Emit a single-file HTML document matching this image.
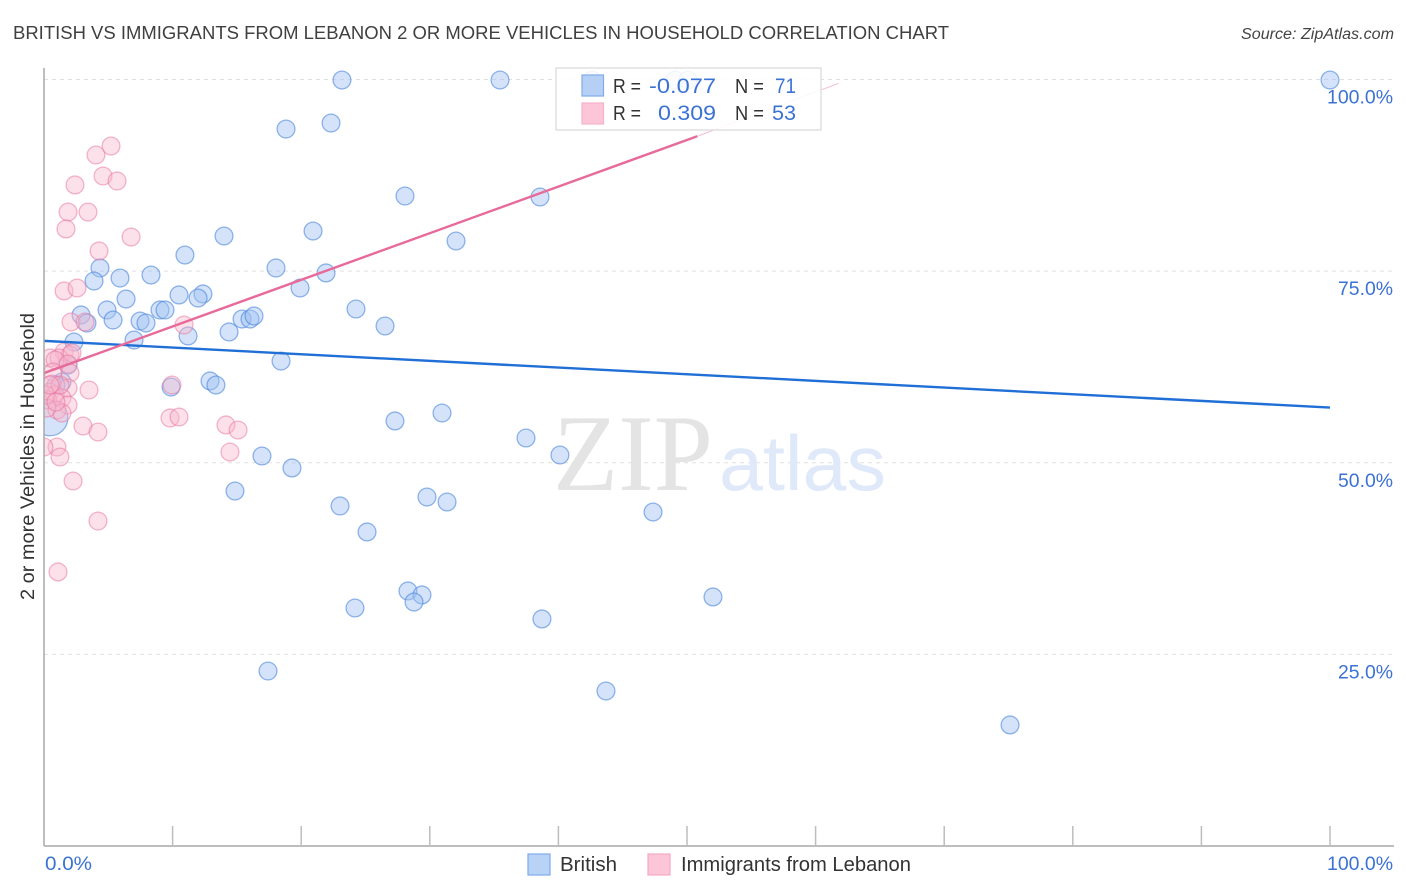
<!DOCTYPE html>
<html lang="en">
<head>
<meta charset="utf-8">
<title>British vs Immigrants from Lebanon correlation chart</title>
<style>
html,body{margin:0;padding:0;background:#fff;width:1406px;height:892px;overflow:hidden}
svg{display:block;font-family:"Liberation Sans",sans-serif}
</style>
</head>
<body>
<svg id="chart" width="1406" height="892" viewBox="0 0 1406 892" xmlns="http://www.w3.org/2000/svg">
  <defs>
    <clipPath id="plot-clip"><rect x="44" y="60" width="1350" height="786"/></clipPath>
  </defs>
  <text x="13" y="39" font-size="18.5" fill="#404040" textLength="936" lengthAdjust="spacingAndGlyphs">BRITISH VS IMMIGRANTS FROM LEBANON 2 OR MORE VEHICLES IN HOUSEHOLD CORRELATION CHART</text>
  <text x="1394" y="39" font-size="15.5" font-style="italic" fill="#444" text-anchor="end" textLength="153" lengthAdjust="spacingAndGlyphs">Source: ZipAtlas.com</text>

  <g id="grid"></g>
  <text x="553" y="490" font-family="'Liberation Serif',serif" font-size="109" fill="#e4e4e4" textLength="160" lengthAdjust="spacingAndGlyphs">ZIP</text>
  <text x="719" y="490" font-size="78" fill="#dfe9f9" textLength="167" lengthAdjust="spacingAndGlyphs">atlas</text>

  <g id="points-british" clip-path="url(#plot-clip)"></g>
  <g id="points-lebanon" clip-path="url(#plot-clip)"></g>
  <g id="trends" clip-path="url(#plot-clip)"></g>

  <g id="axes"></g>

  <text transform="translate(34,600) rotate(-90)" font-size="19" fill="#333" textLength="287" lengthAdjust="spacingAndGlyphs">2 or more Vehicles in Household</text>

  <g>
    <rect x="556" y="68" width="265" height="62" fill="#fff" fill-opacity="0.88" stroke="#dcdcdc" stroke-width="1.3"/>
    <rect x="582" y="75" width="21.5" height="21" fill="#a9c8f3" fill-opacity="0.85" stroke="#7fabe8" stroke-width="1.2"/>
    <rect x="582" y="103" width="21.5" height="21" fill="#fdc5d8" stroke="#f6b3ca" stroke-width="1.2"/>
    <text x="613" y="93" font-size="20.5" fill="#333" textLength="28" lengthAdjust="spacingAndGlyphs">R =</text>
    <text x="649" y="93" font-size="21.5" fill="#3b72d4" textLength="67" lengthAdjust="spacingAndGlyphs">-0.077</text>
    <text x="735" y="93" font-size="20.5" fill="#333" textLength="29" lengthAdjust="spacingAndGlyphs">N =</text>
    <text x="775" y="93" font-size="21.5" fill="#3b72d4" textLength="21" lengthAdjust="spacingAndGlyphs">71</text>
    <text x="613" y="120" font-size="20.5" fill="#333" textLength="28" lengthAdjust="spacingAndGlyphs">R =</text>
    <text x="658" y="120" font-size="21.5" fill="#3b72d4" textLength="58" lengthAdjust="spacingAndGlyphs">0.309</text>
    <text x="735" y="120" font-size="20.5" fill="#333" textLength="29" lengthAdjust="spacingAndGlyphs">N =</text>
    <text x="772" y="120" font-size="21.5" fill="#3b72d4" textLength="24" lengthAdjust="spacingAndGlyphs">53</text>
  </g>

  <g>
    <rect x="528" y="854" width="22" height="21" fill="#b9d3f6" stroke="#7fabe8" stroke-width="1.2"/>
    <text x="560" y="871" font-size="20" fill="#333" textLength="57" lengthAdjust="spacingAndGlyphs">British</text>
    <rect x="648" y="854" width="22" height="21" fill="#fdc5d8" stroke="#f6a9c4" stroke-width="1.2"/>
    <text x="681" y="871" font-size="20" fill="#333" textLength="230" lengthAdjust="spacingAndGlyphs">Immigrants from Lebanon</text>
  </g>
</svg>

<script>
// Chart data (values in percent)
const britishX = [23.17,35.46,42.61,49.07,50.08,100,18.82,22.32,28.07,38.57,20.92,14.00,32.04,10.96,4.35,18.04,5.91,3.89,8.32,21.93,19.91,6.38,10.50,12.36,11.98,9.02,9.41,4.90,2.88,5.37,7.47,7.93,3.34,15.40,16.02,16.33,14.39,24.26,26.52,7.00,2.33,11.20,18.43,1.87,12.91,13.37,9.88,1.40,0.93,0.47,27.29,30.95,37.48,40.12,16.95,19.28,14.85,29.78,31.34,23.02,25.12,47.36,28.30,29.39,28.77,24.18,52.02,38.72,17.42,43.70,75.12];
const britishY = [99.93,99.93,99.93,99.93,99.93,99.93,93.54,94.32,84.80,84.67,80.23,79.58,78.93,77.10,75.41,75.41,74.10,73.71,74.49,74.76,72.80,71.36,71.89,72.02,71.49,69.93,69.93,69.93,69.28,68.62,68.49,68.23,68.23,68.75,68.75,69.15,67.06,70.06,67.84,66.01,65.75,66.54,63.27,62.75,60.67,60.14,59.88,60.53,60.14,55.84,55.45,56.49,53.23,51.01,50.88,49.32,46.31,45.53,44.88,44.36,40.97,43.57,33.27,32.75,31.83,31.05,32.49,29.62,22.83,20.22,15.79];
const lebanonX = [5.21,4.04,4.59,5.68,2.41,1.87,3.42,1.71,6.77,4.28,1.56,2.57,2.10,3.19,10.89,1.56,2.02,0.47,1.17,0.86,2.18,1.87,2.02,0.70,3.50,9.95,1.87,0.62,0.47,0.86,0.31,1.40,1.87,1.01,1.40,9.80,10.50,3.03,4.20,14.15,15.09,1.01,14.46,1.24,0,2.26,4.20,1.09,1.24,0.23,0.16,0.93,0.47];
const lebanonY = [91.32,90.15,87.41,86.76,86.24,82.71,82.71,80.50,79.45,77.63,72.41,72.80,68.36,68.36,67.97,64.45,64.06,63.67,63.67,63.40,64.32,62.88,61.71,61.84,59.49,60.14,59.75,60.27,59.23,58.84,58.19,58.45,57.53,56.88,56.49,55.84,55.97,54.79,54.01,54.93,54.27,52.05,51.40,50.75,52.05,47.62,42.40,35.75,60.14,57.14,58.84,57.92,60.14];
// Bubble weight: 1 = ordinary point; a heavier point draws larger
const britishWeights = {49:2};
// Trend line end points [x%, y%]
const britishTrendX = [0,100];
const britishTrendY = [65.9,57.2];
const lebanonTrendX = [0,50.8];
const lebanonTrendY = [61.7,92.6];
const lebanonTrendFadedX = [50.8,61.8];
const lebanonTrendFadedY = [92.6,99.5];
// Axis ticks
const xTickValues = [0,10,20,30,40,50,60,70,80,90,100];
const yTickValues = [100,75,50,25];
const yTickLabels = ['100.0%','75.0%','50.0%','25.0%'];
const xTickLabels = ['0.0%','100.0%'];

const NS = 'http://www.w3.org/2000/svg';
const sx = v => 44 + v * 12.86;
const sy = v => 846 - v * 7.665;

function mk(parent, tag, attrs) {
  const el = document.createElementNS(NS, tag);
  for (const k in attrs) el.setAttribute(k, attrs[k]);
  parent.appendChild(el);
  return el;
}

// Gridlines and y tick labels
const gridG = document.getElementById('grid');
const axesG = document.getElementById('axes');
yTickValues.forEach((v, i) => {
  const gl = mk(gridG, 'line', {x1: 44, x2: 1394, y1: sy(v), y2: sy(v), stroke: '#e0e0e0', 'stroke-width': 1, 'stroke-dasharray': '4 4'});
  
  
  const t = mk(axesG, 'text', {x: 1393, y: sy(v) + 24, 'font-size': 19.5, fill: '#3b72d4', 'text-anchor': 'end'});
  
  
  t.textContent = yTickLabels[i];
  t.setAttribute('textLength', yTickLabels[i].length > 5 ? 66 : 55);
  t.setAttribute('lengthAdjust', 'spacingAndGlyphs');
});

// Axis lines
const yAxis = mk(axesG, 'line', {x1: 44, x2: 44, y1: 68, y2: 846, stroke: '#a8a8a8', 'stroke-width': 1.5});


const xAxis = mk(axesG, 'line', {x1: 44, x2: 1394, y1: 846, y2: 846, stroke: '#a8a8a8', 'stroke-width': 1.5});



// X ticks
xTickValues.forEach(v => {
  if (v === 0) return;
  const tk = mk(axesG, 'line', {x1: sx(v), x2: sx(v), y1: 826, y2: 846, stroke: '#bdbdbd', 'stroke-width': 1.5});
  
  
});
const xl0 = mk(axesG, 'text', {x: 45, y: 870, 'font-size': 19.5, fill: '#3b72d4', textLength: 47, lengthAdjust: 'spacingAndGlyphs'});


xl0.textContent = xTickLabels[0];
const xl1 = mk(axesG, 'text', {x: 1393, y: 870, 'font-size': 19.5, fill: '#3b72d4', 'text-anchor': 'end', textLength: 66, lengthAdjust: 'spacingAndGlyphs'});


xl1.textContent = xTickLabels[1];

// British points
const britishG = document.getElementById('points-british');
britishX.forEach((x, i) => {
  const c = mk(britishG, 'circle', {cx: sx(x), cy: sy(britishY[i]), r: 8.9 * (britishWeights[i] || 1), fill: '#9fc2f2', 'fill-opacity': 0.45, stroke: '#4a86dc', 'stroke-opacity': 0.6, 'stroke-width': 1.3});
  
  
});

// Lebanon points
const lebanonG = document.getElementById('points-lebanon');
lebanonX.forEach((x, i) => {
  const c = mk(lebanonG, 'circle', {cx: sx(x), cy: sy(lebanonY[i]), r: 8.9, fill: '#f9b7cd', 'fill-opacity': 0.42, stroke: '#e8709c', 'stroke-opacity': 0.5, 'stroke-width': 1.3});
  
  
});

// Trend lines
const trendG = document.getElementById('trends');
const tb = mk(trendG, 'line', {x1: sx(britishTrendX[0]), y1: sy(britishTrendY[0]), x2: sx(britishTrendX[1]), y2: sy(britishTrendY[1]), stroke: '#1f6fd6', 'stroke-width': 2.4});


const tl = mk(trendG, 'line', {x1: sx(lebanonTrendX[0]), y1: sy(lebanonTrendY[0]), x2: sx(lebanonTrendX[1]), y2: sy(lebanonTrendY[1]), stroke: '#e86a9a', 'stroke-width': 2.4});


const tf = mk(trendG, 'line', {x1: sx(lebanonTrendFadedX[0]), y1: sy(lebanonTrendFadedY[0]), x2: sx(lebanonTrendFadedX[1]), y2: sy(lebanonTrendFadedY[1]), stroke: '#e86a9a', 'stroke-width': 1, 'stroke-opacity': 0.45});


</script>
</body>
</html>
